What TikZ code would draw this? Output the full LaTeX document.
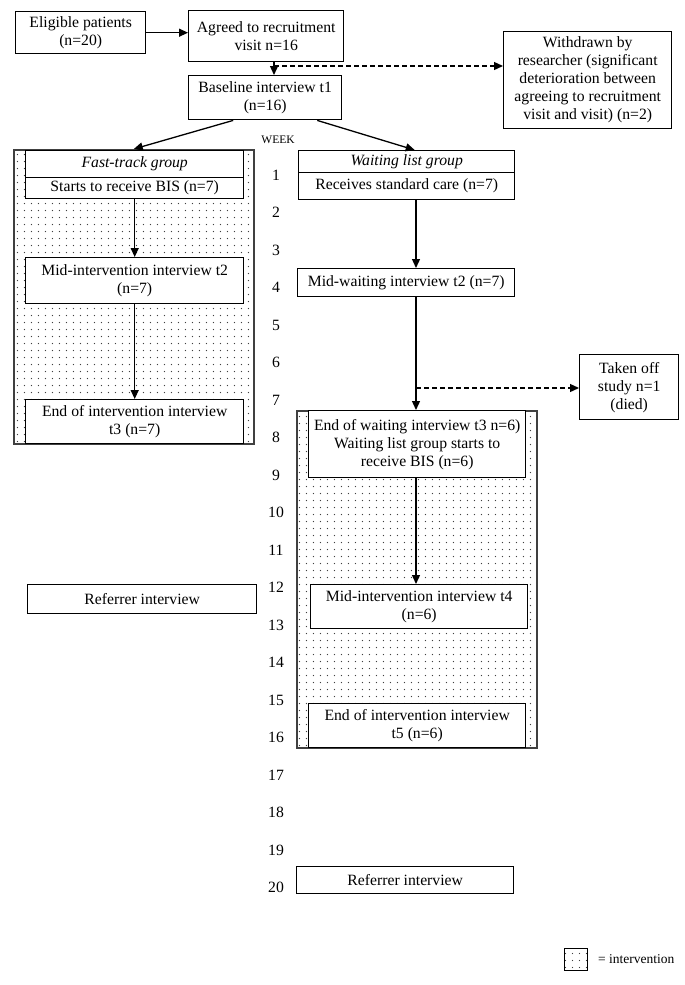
\documentclass[tikz,border=0pt]{standalone}
\usepackage{fontspec}
\setmainfont{Liberation Serif}
\usetikzlibrary{arrows.meta,patterns.meta,calc}

\tikzdeclarepattern{
  name=sdots,
  type=uncolored,
  bounding box={(0pt,0pt) and (7.4pt,7.4pt)},
  tile size={(7.4pt,7.4pt)},
  code={
    \fill (3.7pt,3.7pt) circle (0.7pt);
  }
}

\begin{document}
\begin{tikzpicture}[x=1pt,y=-1pt,
  txt/.style={font=\fontsize{15.7}{18}\selectfont},
  box/.style={txt, draw=black, line width=1.4pt, fill=white, align=center, inner sep=0pt, anchor=north west},
  panel/.style={draw=black!75, line width=1.6pt, pattern=sdots, pattern color=black!75, anchor=north west, inner sep=0pt},
  arr/.style={-{Triangle[length=9pt,width=8pt]}, line width=1.3pt},
  darr/.style={arr, dash pattern=on 4.5pt off 3.5pt}
]
\useasboundingbox (0,0) rectangle (685,985);
\fill[white] (0,0) rectangle (685,985);

% top part
\node[box, minimum width=130, minimum height=42] (elig) at (15,11) {Eligible patients\\(n=20)};
\node[box, minimum width=155, minimum height=51] (agree) at (188,10) {Agreed to recruitment\\visit n=16};
\node[box, minimum width=168, minimum height=97] (withd) at (503,31) {Withdrawn by\\researcher (significant\\deterioration between\\agreeing to recruitment\\visit and visit) (n=2)};
\node[box, minimum width=153, minimum height=44] (base) at (188,75) {Baseline interview t1\\(n=16)};
\coordinate (jx) at (274,66);

\draw[arr] (elig.east) -- (elig.east -| agree.west);
\draw[arr] (agree.south -| jx) -- (base.north -| jx);
\draw[darr] (jx) -- (jx -| withd.west);

% week column
\node[font=\fontsize{11.5}{13}\selectfont] (week) at (278,140) {WEEK};
\foreach \k in {1,...,20}
  \node[txt] (w\k) at (276,{175+(\k-1)*37.5}) {\k};

% fast-track group
\node[panel, minimum width=240, minimum height=294] (ftpanel) at (13,149) {};
\node[box, minimum width=218, minimum height=27, font=\fontsize{15.7}{18}\selectfont\itshape] (fthead) at (25,150) {Fast-track group};
\node[box, minimum width=218, minimum height=21] (ftstart) at (25,177) {Starts to receive BIS (n=7)};
\node[box, minimum width=218, minimum height=46] (ftmid) at (25,257) {Mid-intervention interview t2\\(n=7)};
\node[box, minimum width=218, minimum height=44] (ftend) at (25,399) {End of intervention interview\\t3 (n=7)};
\draw[arr] (ftstart.south) -- (ftmid.north);
\draw[arr] (ftmid.south) -- (ftend.north);

% waiting list group
\node[box, minimum width=216, minimum height=22, font=\fontsize{15.7}{18}\selectfont\itshape] (wlhead) at (298,150) {Waiting list group};
\node[box, minimum width=216, minimum height=27] (wlstd) at (298,172) {Receives standard care (n=7)};
\node[box, minimum width=217, minimum height=28] (wlmid) at (297,268) {Mid-waiting interview t2 (n=7)};
\node[panel, minimum width=240, minimum height=337] (wlpanel) at (296,410) {};
\node[box, minimum width=217, minimum height=67] (wlend) at (308,410) {End of waiting interview t3 n=6)\\Waiting list group starts to\\receive BIS (n=6)};
\node[box, minimum width=217, minimum height=44] (wlmid4) at (310,584) {Mid-intervention interview t4\\(n=6)};
\node[box, minimum width=217, minimum height=44] (wlend5) at (308,703) {End of intervention interview\\t5 (n=6)};
\node[box, minimum width=99, minimum height=65] (taken) at (579,354) {Taken off\\study n=1\\(died)};
\coordinate (wj) at (416,388);

\draw[arr] (wlstd.south -| wj) -- (wlmid.north -| wj);
\draw[arr] (wlmid.south -| wj) -- (wlend.north -| wj);
\draw[darr] (wj) -- (wj -| taken.west);
\draw[arr] (wlend.south -| wj) -- (wlmid4.north -| wj);

% baseline to groups
\draw[arr] ($(base.south)+(-32,0)$) -- (ftpanel.north);
\draw[arr] ($(base.south)+(52,0)$) -- ($(wlhead.north)+(8,0)$);

% referrer interviews
\node[box, minimum width=229, minimum height=29] (ref1) at (27,584) {Referrer interview};
\node[box, minimum width=217, minimum height=27] (ref2) at (296,866) {Referrer interview};

% legend
\node[panel, draw=black, line width=1.2pt, minimum width=23, minimum height=22] (leg) at (564,948) {};
\node[anchor=west, font=\fontsize{13.5}{15}\selectfont, inner sep=0pt] (legt) at (598,959) {= intervention};
\end{tikzpicture}
\end{document}
